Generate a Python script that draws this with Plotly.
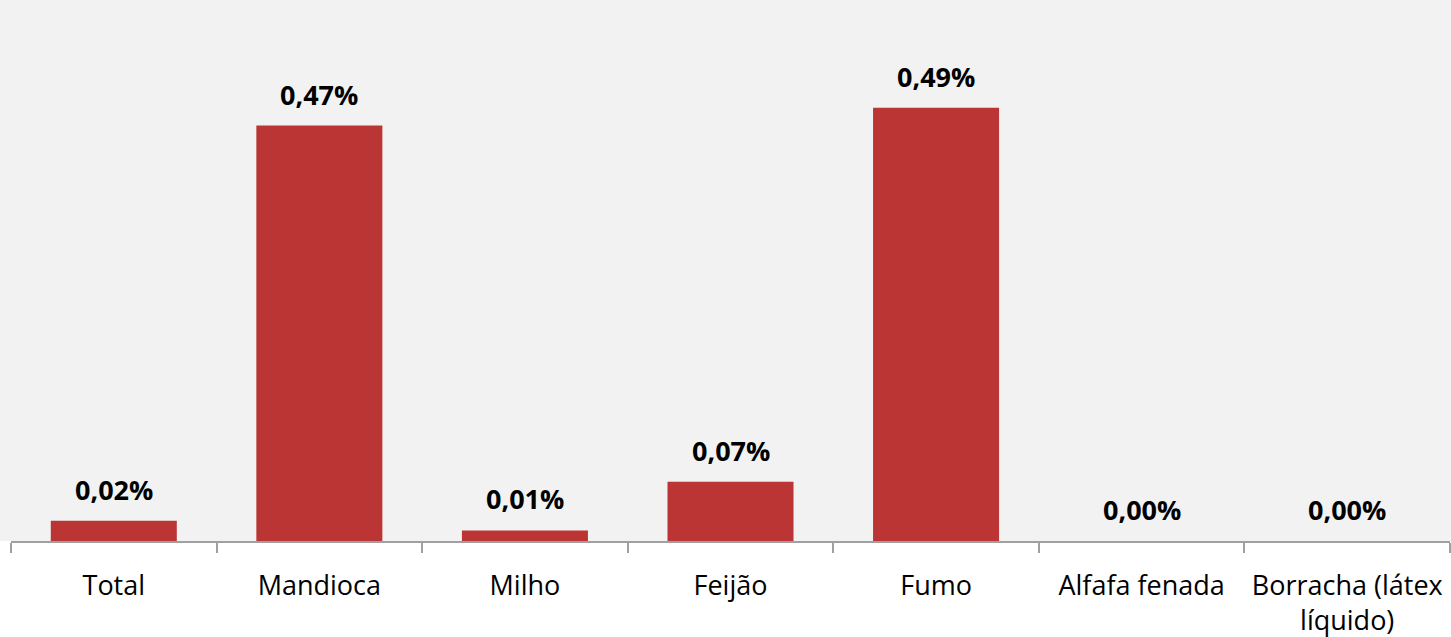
import plotly.graph_objects as go

categories = ["Total", "Mandioca", "Milho", "Feijão", "Fumo", "Alfafa fenada", "Borracha (látex<br>líquido)"]
values = [0.023, 0.47, 0.012, 0.067, 0.49, 0.0, 0.0]
labels = [f"{v:.2f}%".replace(".", ",") for v in values]

fig = go.Figure()
fig.add_trace(go.Bar(
    x=categories, y=values,
    marker=dict(color="#ba3533", line=dict(width=0)),
    width=0.613,
    hoverinfo="x+y",
))

for c, v, t in zip(categories, values, labels):
    fig.add_annotation(x=c, y=v, text=f"<b>{t}</b>", showarrow=False,
                       yanchor="bottom", yshift=11,
                       font=dict(family="Open Sans", size=27, color="#000000"))

fig.add_shape(type="rect", xref="paper", yref="paper", x0=-0.02, x1=1.02, y0=0, y1=1.05,
              fillcolor="#f2f2f2", line=dict(width=0), layer="below")

fig.update_layout(
    width=1451, height=637,
    margin=dict(l=11, r=1, t=0, b=96, autoexpand=False),
    paper_bgcolor="#ffffff", plot_bgcolor="#f2f2f2",
    showlegend=False,
    font=dict(family="Open Sans", size=27, color="#000000"),
    xaxis=dict(type="category", tickson="boundaries", ticks="outside", ticklen=10,
               tickcolor="#a0a0a0", tickwidth=1.5, showline=True, linecolor="#a0a0a0",
               linewidth=1.5, showgrid=False, ticklabelstandoff=20, tickangle=0,
               tickfont=dict(family="Open Sans", size=27, color="#000000")),
    yaxis=dict(range=[0, 0.612], visible=False, showgrid=False, zeroline=False),
)

fig.write_html("out.html", config={"displayModeBar": False},
               post_script="document.body.style.margin='0';")
